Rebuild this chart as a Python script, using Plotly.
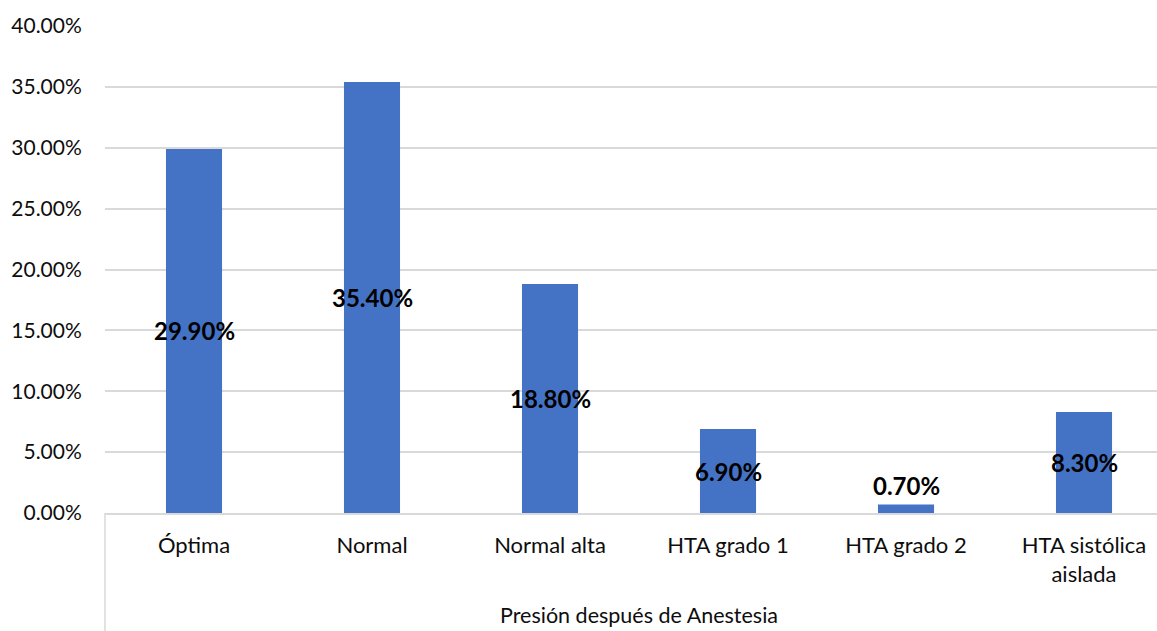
import plotly.graph_objects as go

categories = ["Óptima", "Normal", "Normal alta", "HTA grado 1", "HTA grado 2", "HTA sistólica<br>aislada"]
values = [0.299, 0.354, 0.188, 0.069, 0.007, 0.083]
y_ticks = [0.0, 0.05, 0.10, 0.15, 0.20, 0.25, 0.30, 0.35, 0.40]
x_title = "Presión después de Anestesia"

FONT = "Lato"
BAR_COLOR = "#4472C4"
GRID = "#D9D9D9"
TEXT = "#0D0D0D"

W, H = 1157, 631
M_L, M_R, M_T, M_B = 105, 0, 26, 118
plot_h = H - M_T - M_B

fig = go.Figure()
fig.add_trace(go.Bar(
    x=list(range(len(categories))),
    y=values,
    marker=dict(color=BAR_COLOR, line=dict(width=0)),
    hoverinfo="skip",
))

# value labels: centred in the bar, or just above it when the bar is too short
for i, v in enumerate(values):
    small = v < 0.02
    fig.add_annotation(
        x=i, y=v if small else v / 2,
        xref="x", yref="y",
        text=f"<b>{v * 100:.2f}%</b>",
        showarrow=False,
        yanchor="bottom" if small else "middle",
        yshift=2 if small else 0,
        font=dict(family=FONT, size=24, color="#000000"),
    )

# axis title below the category labels
fig.add_annotation(
    x=2.5, xref="x", y=-(615 - 513) / plot_h, yref="paper",
    text=x_title, showarrow=False, yanchor="middle",
    borderpad=0,
    font=dict(family=FONT, size=21.5, color=TEXT),
)

# left border of the category label band
fig.add_shape(
    type="line", xref="paper", yref="paper",
    x0=0, x1=0, y0=0, y1=-M_B / plot_h,
    line=dict(color=GRID, width=1.5),
)

fig.update_layout(
    width=W, height=H,
    margin=dict(l=M_L, r=M_R, t=M_T, b=M_B, pad=0),
    paper_bgcolor="white", plot_bgcolor="white",
    bargap=0.685,
    showlegend=False,
    font=dict(family=FONT, color=TEXT),
    xaxis=dict(
        tickmode="array",
        tickvals=list(range(len(categories))),
        ticktext=categories,
        range=[-0.5, 5.5 - 16 / 178],
        showgrid=False,
        showline=True, linecolor=GRID, linewidth=1.5,
        ticks="outside", ticklen=12, tickcolor="rgba(0,0,0,0)",
        tickfont=dict(family=FONT, size=22, color=TEXT),
        zeroline=False,
    ),
    yaxis=dict(
        range=[0, 0.40],
        tickvals=y_ticks,
        tickformat=".2%",
        showgrid=True, gridcolor=GRID, gridwidth=1.5,
        showline=False, zeroline=False,
        ticks="outside", ticklen=18, tickcolor="rgba(0,0,0,0)",
        tickfont=dict(family=FONT, size=21, color=TEXT),
    ),
)

fig.write_html("out.html")
